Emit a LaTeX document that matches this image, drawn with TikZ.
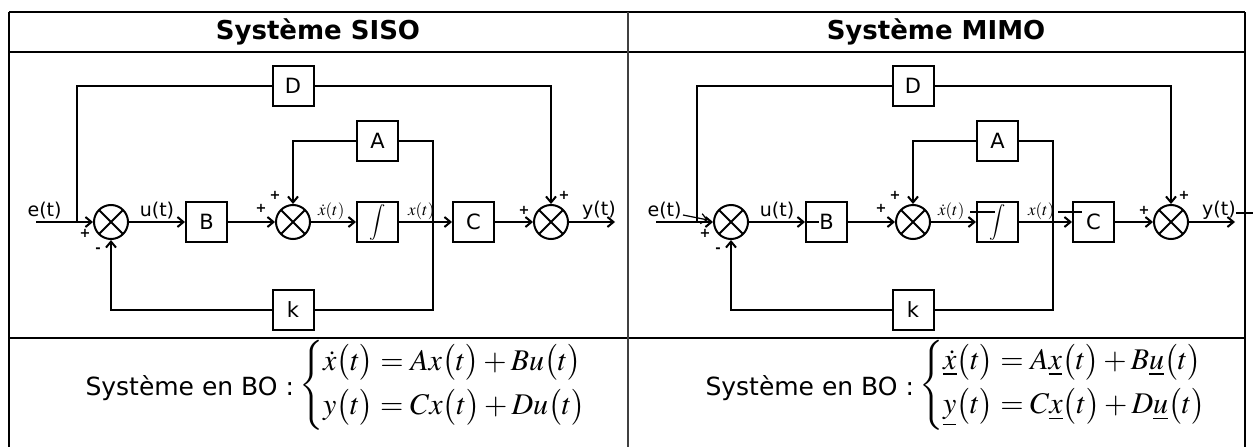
\documentclass[tikz,border=0pt]{standalone}
\usepackage{mathptmx}
\usepackage[no-math]{fontspec}
\setmainfont{DejaVu Sans}
\usetikzlibrary{positioning,arrows.meta,calc}
\newcommand{\prn}[1]{\bigl(#1\bigr)}

\begin{document}
\begin{tikzpicture}[x=1pt,y=-1pt,
  line width=2pt,
  block/.style={rectangle, draw, minimum width=41pt, minimum height=40pt,
    inner sep=0pt, font=\fontsize{21}{23}\selectfont},
  sum/.style={circle, draw, minimum size=34pt, inner sep=0pt,
    path picture={
      \draw ($(path picture bounding box.center)+(45:17pt)$) -- ($(path picture bounding box.center)+(225:17pt)$)
            ($(path picture bounding box.center)+(135:17pt)$) -- ($(path picture bounding box.center)+(315:17pt)$);}},
  arrow/.style={-{Straight Barb[length=6pt,width=10pt]}},
  sig/.style={font=\bfseries\fontsize{13}{14}\selectfont, inner sep=0pt},
  lbl/.style={above, inner sep=2pt, font=\fontsize{19}{21}\selectfont},
  mlbl/.style={above, inner sep=1pt, font=\fontsize{17}{19}\selectfont},
  title/.style={font=\bfseries\fontsize{26}{30}\selectfont},
  botext/.style={font=\fontsize{25}{29}\selectfont, inner sep=0pt},
  eqn/.style={font=\fontsize{30}{36}\selectfont, inner sep=0pt},
  glitch/.style={line width=1.2pt},
]
\useasboundingbox (0,0) rectangle (1253,447);

% table
\draw[line width=2pt] (9,12) -- (1245,12);
\draw[line width=2pt] (9,52) -- (1245,52);
\draw[line width=2.5pt] (9,338) -- (1245,338);
\draw[line width=1.2pt] (9,12) -- (9,447);
\draw[line width=1.5pt, black!75] (628,12) -- (628,447);
\draw[line width=2pt] (1245,12) -- (1245,447);

\node[title] (tL) at (318,32) {Système SISO};
\node[title] (tR) at (936,32) {Système MIMO};

% the two block diagrams
\foreach \sx/\p in {0/L,620/R}{
\begin{scope}[xshift=\sx pt]
  \node[sum] (s1\p) at (111,222) {};
  \node[block, right=56pt of s1\p] (B\p) {B};
  \node[sum, right=47pt of B\p] (s2\p) {};
  \node[block, right=45pt of s2\p, font=\fontsize{18}{20}\selectfont] (I\p) {$\displaystyle\int$};
  \node[block, right=53pt of I\p] (C\p) {C};
  \node[sum, right=38pt of C\p] (s3\p) {};
  \node[block, above=97pt of s2\p] (D\p) {D};
  \node[block, above=39pt of I\p] (A\p) {A};
  \node[block, below=49pt of s2\p] (k\p) {k};
  \coordinate (in\p) at (36,222);
  \coordinate (br\p) at (77,222);
  \coordinate (tap\p) at (433,222);
  \coordinate (out\p) at (615,222);

  \draw[arrow] (in\p) -- (s1\p) node[lbl, pos=0.15] {e(t)};
  \draw (br\p) |- (D\p);
  \draw[arrow] (D\p) -| (s3\p);
  \draw[arrow] (s1\p) -- (B\p) node[lbl, midway] {u(t)};
  \draw[arrow] (B\p) -- (s2\p);
  \draw[arrow] (s2\p) -- (I\p) node[mlbl, pos=0.45] {$\dot{x}(t)$};
  \draw[arrow] (I\p) -- (C\p) node[mlbl, pos=0.42] {$x(t)$};
  \draw[arrow] (C\p) -- (s3\p);
  \draw[arrow] (s3\p) -- (out\p) node[lbl, pos=0.65] {y(t)};
  \draw (tap\p) |- (A\p);
  \draw[arrow] (A\p) -| (s2\p);
  \draw (tap\p) |- (k\p);
  \draw[arrow] (k\p) -| (s1\p);

  \node[sig] at ([shift={(-8,11)}]s1\p.west) {+};
  \node[sig] at ([shift={(-13,10)}]s1\p.south) {-};
  \node[sig] at ([shift={(-14,-14)}]s2\p.west) {+};
  \node[sig] at ([shift={(-18,-9)}]s2\p.north) {+};
  \node[sig] at ([shift={(-9,-12)}]s3\p.west) {+};
  \node[sig] at ([shift={(13,-9)}]s3\p.north) {+};
\end{scope}
}

% stray strokes of the MIMO drawing
\draw[glitch, arrow] (683,215) -- (708,220);
\draw[glitch] (BR.west) -- ++(14,0);
\draw[glitch] (970,212) -- (995,212);
\draw[glitch] (1058,212) -- (1082,212);
\draw[glitch] (1236,213) -- (1253,213);

% state equations
\node[botext, anchor=east] (boL) at (295,388) {Système en BO :};
\node[eqn, anchor=west] (eqL) at (298,385) {$\left\{\begin{array}{@{}l@{}}
  \dot{x}\prn{t}=Ax\prn{t}+Bu\prn{t}\\[8pt]
  y\prn{t}=Cx\prn{t}+Du\prn{t}\end{array}\right.$};
\node[botext, anchor=east] (boR) at (915,388) {Système en BO :};
\node[eqn, anchor=west] (eqR) at (918,385) {$\left\{\begin{array}{@{}l@{}}
  \underline{\dot{x}}\prn{t}=A\underline{x}\prn{t}+B\underline{u}\prn{t}\\[8pt]
  \underline{y}\prn{t}=C\underline{x}\prn{t}+D\underline{u}\prn{t}\end{array}\right.$};
\end{tikzpicture}
\end{document}
